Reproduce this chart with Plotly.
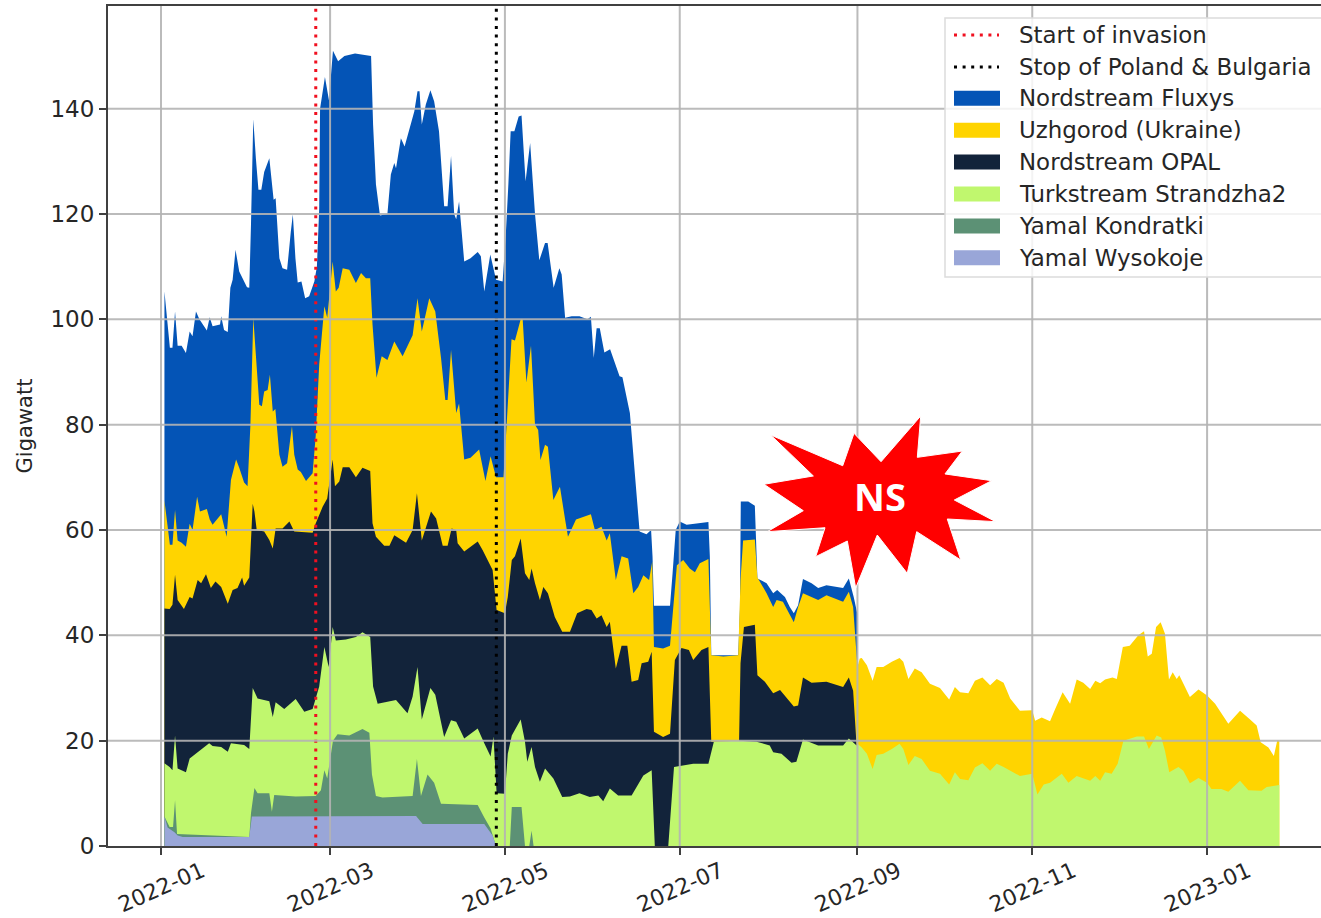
import datetime as dt
import plotly.graph_objects as go

# Every series below is the top edge of its band in the stack (Gigawatt),
# read off the picture at days counted from 2022-01-01.
BASE = dt.datetime(2022, 1, 1)

FLUXYS_DAY = [1.2,3.1,4,4.9,5.8,7.2,8.7,10,11,12.2,13.4,16,17,18,20.6,21,22,23.3,24.2,25,26,27.3,30,30.8,31.4,32.2,33.1,34,35,36,37.8,38.7,39.3,40,41.3,42.4,44,45.3,46,46.9,47.7,49,50.3,51.7,53.5,54.4,55.2,55.5,57.2,58.6,60,61.8,64,67.7,73.3,74,75,76.4,79,80.2,81.4,82,83.7,85,87.2,88.4,89.5,90.2,91,92.4,94,95.3,97,98.8,100,101.2,102.3,103,104,105.8,108,110.5,111.6,112.8,114.9,116.9,119.2,120.3,121.2,122,123.3,124.8,125.8,127.2,128.8,130.5,132,134,134.9,137,139,139.8,141,143.3,146,148.8,150,151,152,153.1,154.7,156.7,160,161,163.6,165.3,166.5,167,169.4,171,171.5,172,177.6,178.5,179.6,181,183.4,191,191.5,192,201.4,202,202.3,204.9,207.2,208.1,211.3,213.6,215,217.7,219.4,220.8,222.3,224,227,229.3,232.2,238,240,241.7,242.7,243]
FLUXYS_TOP = [105.3,94.6,94.6,101.5,95,95,93.6,97.7,96.8,101.5,100,97.9,100.4,98.7,99,100.6,98,97.6,106,107.5,113.2,109.1,106.1,106,118,138,130.6,124.6,124.6,128,130.6,125,122.7,123,111.6,109.7,109.4,116.7,119.9,111.6,107,107.2,104,104.4,107.2,110,121,140,146,141.6,151,149,150,150.5,150,137,125.6,119.7,120,127.5,129.7,128.7,134.4,132.8,137,139.5,143.3,143.3,137,140.8,143.5,141.4,135.7,121.5,121.5,131,120,119,122.4,111,111.6,112.8,112,105.3,112.3,107.5,107.2,116,125.6,135.7,135.7,138.5,138.7,126.2,133.5,120,111.2,114.5,114.5,106,109.7,108.5,100.3,100.6,100.6,100,100.5,92.7,98.3,98.3,93.7,94.3,89.2,89,82.2,70,63,59.7,59.2,60,55,45.6,45.6,51.8,60,61.6,61,61.5,55,36.2,36.2,45,65.4,65.4,64.6,50.8,49.9,48,48.6,47.3,45.4,44.2,45.7,50.7,49.9,49,49.5,49,50.8,47.3,44.5,44]

UZHGOROD_DAY = [1.2,3.1,4,4.9,5.8,7.2,8.7,10,11,12.6,13.6,16,17,18,21,22.9,24.4,26.2,27.3,29,30.2,31.2,32.2,33.1,34.3,35.2,36,37.2,38,39,39.9,41.3,42.4,44,45.7,46.5,47.7,48.8,50.6,52.9,54,55.2,57,58,59.9,61,62,63.4,65.7,68,69.8,71.5,73,73.8,75.2,77,79,81.4,84.3,87.8,89.5,91,93.6,95.7,97.7,99.2,100,101.2,103,104,105.8,108,111,113.2,115,116.9,119.5,120.6,122.3,123.5,125.5,126.2,127.5,129.1,130.5,131.6,132.4,134,135,136.9,139.2,141,142,144.8,150,151.4,153.7,155.5,156.6,158.7,160.7,163,164.8,166.5,168.3,170.3,171.4,172,175.2,177.6,179,180,182.2,184.5,186.3,188,191,192,196.2,201.4,202.2,203.1,207.2,208.1,211.3,213.6,214.8,217,220.8,222.3,224,227,229.3,232.2,238,240,241.5,243,243.8,244.5,246.3,248.3,249.7,252,255,257.7,259,260.8,263,265.4,268.3,271.8,275,277,278.8,281.7,284,286.6,289.3,291.6,294,296.3,299.7,304,305,307.3,310.2,312,314.6,317.2,319.5,321.8,324.2,326,327.7,329.4,332,333.5,335.6,338,341,343,344.3,345.7,347.2,348.8,350.3,351.7,353,354.4,355.3,359,362,365,367.8,372.4,376.5,380,382.3,383.7,386.4,388.3,389.5,390.2]
UZHGOROD_TOP = [65.6,57.2,57.2,63.8,58,57.6,56.8,61.2,60,66.3,63.5,64,62,61,63,58.7,69.5,73.4,71.8,69,68.3,80,100.3,92.7,83.8,83.5,86.3,86.6,89.5,82.5,83,74.3,72,72.7,79.7,74.3,71.5,71,69.3,70.8,78,91.4,102.5,100.3,111,105.3,106,109.7,109.4,106.9,108.8,107.8,107.8,99,88.9,93,92.3,95.8,93,97,104,97.7,104,101.5,92.7,84.7,84.7,94.2,82.2,84,73.4,73.7,75.3,69.3,74,70,70,80,96.2,96,100,100,88,95,80,79,73.3,76.2,75.8,65.7,68.2,62,58.7,62,63,60,60.6,58,59.4,50.5,55,54.6,48,49.2,51.4,50.5,54,37.8,37.5,38,47.3,53.3,54.3,52.7,52,53.7,54.5,36.2,36,36.2,50.5,58,58.2,51,48,45.4,46.7,46.4,42.5,45.4,48,47.3,46.7,47.6,46.4,48.3,45.4,34,35.6,35.7,34.3,31.4,34,34,35,35.7,35,31.7,33.7,33,30.8,30,27.8,30.2,29.2,29,31.4,32,30.5,31.7,31,28,25.7,25.8,23.8,24.4,23.7,26,29.2,27,31.6,31,29.8,31.4,30.9,31.6,32,31.7,37.8,38,40,40.8,36,36.5,41.6,42.5,40.3,31.6,33,31.7,32.4,28.3,29.7,28.6,27,23.2,25.7,24,22.9,19.7,18.7,17.1,20.1,20]

OPAL_DAY = [1.2,3,4,4.9,5.8,8,10,11,12.8,14,15.7,17.4,19,21,23.3,25,26.7,28.3,29,30.8,32,32.6,33.4,36,37.8,39,40,42.4,44.8,46.5,52.9,54,56.4,58,59.9,60.7,62.2,63.4,65.7,68,70.3,73,73.8,75,77.9,79.7,81.4,85.5,87.8,89.3,91,94.2,96,98.3,100,101.4,103,103.5,105.8,110.5,112.2,115.7,117.1,120,121,122.4,123.5,125.5,127,128.5,129.3,130.5,132.2,133.4,135,137.4,140,142.7,145.2,148.5,150.2,152,153.7,155.5,156.6,157.6,158.7,160.7,162.7,164.2,166.5,167.7,170,171.2,172,175.2,177.6,179.3,181.6,184.2,185.7,188.6,191,192,201.7,202.2,203.4,207.2,208.1,210.7,213.6,216,218.8,220.8,222.3,224,227,232.2,238,240,241.5,242.7,243]
OPAL_TOP = [45.1,45,45.8,51.5,46.7,45,47.3,47,50.5,49.9,51.6,49,50.2,49.2,46,48.6,49,51,49.4,51,65,63.5,60,59.7,58.1,56.5,60.3,60.3,61.6,59.7,59.5,61.3,64.4,66,73.4,68.3,69.2,71.9,71.9,70,71.8,71.2,61.3,58.7,57,57,59,57.6,60,67,58,63.5,62.2,57,57,60.3,60,57.5,55.9,57.8,56.2,52.4,44.8,44.2,47.3,54.3,55,58.4,51.8,50.5,52.7,49.9,46.7,49.2,48,43.5,40.7,40.7,44.2,45,44.8,43.2,43.8,41.6,42.6,37.8,33.7,38,38,31.2,31.5,34.7,35,36.9,21.7,20.7,21.3,35.3,37.6,37.2,35.3,37.2,37.8,19.8,19.8,34.7,41.6,42,32.4,31.2,29,29.6,27.7,26.5,26.7,32,31,31.2,30.2,32,29.5,19.1,19]

TURK_DAY = [1.2,3,4,4.9,5.8,8.7,10,11.6,14.5,16.8,18,21,23.3,24.4,29,30.8,32,33.7,37.8,39,40,43,47,50,52.9,55.2,57,58.5,59.9,61,64.5,68,70.3,73,74,75.6,82,86,87.8,89.5,91,94,95.7,98.8,101.2,103,105.8,110.5,112.8,115,116,117.1,120,121,122.4,125.5,127,127.8,129.3,130.5,132.2,134,136.9,140,142.7,146,149.6,152.6,154.3,156.6,159.5,164.2,168.3,171.2,172.3,177,179,183.3,185.7,191,192.9,201.4,207.8,212.4,213.6,216.5,220,221.7,224,229.3,234.5,238,240,242.7,243,244.5,246.3,248.3,249.7,252,255,257.7,259,260.8,263,265.4,268.3,271.8,275,277,278.8,281.7,284,286.6,289.3,291.6,294,296.3,299.7,304,305.8,308,310.2,314.3,316.6,319.5,324.2,326,327.7,329.4,331.7,333.8,335.8,340.5,343,344.7,347.4,349,350.3,351.8,355,356.7,359,362,365,366.5,370,372.4,376.5,379.4,384,385.8,390.2]
TURK_TOP = [15.7,15,14.4,21,14.7,14,16.6,17.3,18.4,19.5,19,18.8,17.9,19.5,19.2,18.4,30,28,27.5,24.5,27.3,26,27.9,25.5,26,30.3,37.8,34,41.6,39,39.2,39.7,40.6,39.7,30.3,27,27.7,25.2,28.4,34,24,30,28.7,20.7,23.9,23.6,20.4,22.3,19.5,17,20.8,10,9.9,17.5,21,24,19.8,16,18.8,15,12.2,14.7,12.8,9.3,9.4,10,9.3,9.6,8.5,10.9,9.6,9.6,13.4,14.4,0,0,15,15.3,15.6,15.6,19.8,20,19.8,19.1,17.8,17.5,15.8,16,20.2,19.1,19.1,19.1,20.4,19.1,19.4,18.7,17.5,14.6,17.3,17.5,18.4,19.4,18.4,15.4,17.1,16.5,14.3,13.7,11.7,14,12.7,12.5,14.9,15.7,14.3,15.6,15,14.3,13.3,13.7,9.8,11.7,12,13.7,12,13.3,12.4,13.3,12.4,14,13.7,15.6,20,20.8,20.8,18.4,21,20.6,18.1,14,15,14.3,11.9,12.9,12,10.8,10.8,10.3,12.4,10.6,10.5,11.2,11.6]

KONDRATKI_DAY = [1.2,3,4.2,4.9,5.6,30.8,31.4,32.6,33.7,37.8,38.7,39.5,47,54,55.8,57,58,60,61.6,65.7,70.3,72.7,73.6,75,77.3,87.8,89.3,90.7,93,95.3,97.7,110.5,112.8,115,116.9,121.7,122.4,125.8,127,128.5,129.3,130]
KONDRATKI_TOP = [5.6,3.6,3.6,8.7,2.3,1.7,6.2,11,10,10,6.5,9.7,9.4,9.5,10.6,14.4,12.8,20,21.2,21,22.2,21.5,13.6,9.5,9.2,9.5,16.5,9.5,13.6,12,8,7.8,5.4,3.3,0,0,7.4,7.4,0,0,2.9,0]

WYSOKOJE_DAY = [1.2,2.3,4.7,5.8,7.6,30.8,31.7,89,91.3,112.8,115.7,116.9]
WYSOKOJE_TOP = [5.6,3.5,2.6,2,1.7,1.7,5.6,5.7,4.2,4.2,2,0]

INVASION_DAY = 54
STOP_DAY = 117
Y_TICKS = [0,20,40,60,80,100,120,140]
X_TICKS = ["2022-01-01","2022-03-01","2022-05-01","2022-07-01","2022-09-01","2022-11-01","2023-01-01"]
X_LABELS = ["2022-01","2022-03","2022-05","2022-07","2022-09","2022-11","2023-01"]

W, H = 1321, 918
L, R, T, B = 108, 0, 6, 72
PX_PER_DAY = 2.866
Y_MAX = 159.5
FONT = "DejaVu Sans"
INK = "#262626"
GRID = "#b4b4b4"
DOT = "3px,5.6px"
RED = "#f01020"
BLACK = "#000000"

def dates(days):
    return [BASE + dt.timedelta(days=d) for d in days]

def px(x):
    return (x - L) / (W - L - R)

def py(y):
    return (H - B - y) / (H - T - B)

x0 = BASE + dt.timedelta(days=-(161 - L) / PX_PER_DAY)
x1 = BASE + dt.timedelta(days=(W - 161) / PX_PER_DAY)

fig = go.Figure()

# Bands, highest edge first; each later band paints over the one before.
bands = [
    ("Nordstream Fluxys", FLUXYS_DAY, FLUXYS_TOP, "#0454b6"),
    ("Uzhgorod (Ukraine)", UZHGOROD_DAY, UZHGOROD_TOP, "#ffd400"),
    ("Nordstream OPAL", OPAL_DAY, OPAL_TOP, "#12233a"),
    ("Turkstream Strandzha2", TURK_DAY, TURK_TOP, "#c0f76e"),
    ("Yamal Kondratki", KONDRATKI_DAY, KONDRATKI_TOP, "#5c9175"),
    ("Yamal Wysokoje", WYSOKOJE_DAY, WYSOKOJE_TOP, "#99a6d8"),
]

for name, day, top, colour in bands:
    fig.add_trace(go.Scatter(x=dates(day), y=top, mode="lines", name=name, showlegend=False,
                             line=dict(width=0, color=colour), fill="tozeroy", fillcolor=colour,
                             hoverinfo="skip"))

fig.add_trace(go.Scatter(x=dates([INVASION_DAY] * 2), y=[0, Y_MAX], mode="lines", name="Start of invasion",
                         showlegend=False, line=dict(color=RED, width=3, dash=DOT)))
fig.add_trace(go.Scatter(x=dates([STOP_DAY] * 2), y=[0, Y_MAX], mode="lines", name="Stop of Poland & Bulgaria",
                         showlegend=False, line=dict(color=BLACK, width=3, dash=DOT)))

shapes = []
for t in X_TICKS:
    shapes.append(dict(type="line", xref="x", yref="paper", x0=t, x1=t, y0=0, y1=1,
                       line=dict(color=GRID, width=2), opacity=0.9, layer="above"))
for v in Y_TICKS[1:]:
    shapes.append(dict(type="line", xref="paper", yref="y", x0=0, x1=1, y0=v, y1=v,
                       line=dict(color=GRID, width=2), opacity=0.9, layer="above"))

STAR = [(770.7,435),(842.7,465.7),(854,433.3),(881,461.7),(920.7,416),(917.3,457.3),(962.3,451),(945,474),
        (991.7,480.7),(954.3,500),(995.7,521.7),(947.3,519),(960.7,560),(916.7,531.7),(907.3,573.3),
        (877.3,535),(855.7,588),(847.3,541),(815.7,556.7),(825,527.7),(767.3,531.7),(803.3,510.7),
        (764,484.3),(813.3,476)]
path = "M " + " L ".join(f"{px(a):.4f},{py(b):.4f}" for a, b in STAR) + " Z"
shapes.append(dict(type="path", xref="paper", yref="paper", path=path, fillcolor="#ff0000",
                   line=dict(color="#ffffff", width=1), layer="above"))

annotations = [dict(text="<b>NS</b>", xref="paper", yref="paper", x=px(880), y=py(496), showarrow=False,
                    font=dict(family="Open Sans", size=38, color="#ffffff"))]

# Legend box drawn to the reference's exact geometry (it runs off the right edge).
shapes.append(dict(type="rect", xref="paper", yref="paper", x0=px(945), x1=1.01, y0=py(277), y1=py(18),
                   fillcolor="rgba(255,255,255,0.82)", line=dict(color="#dcdcdc", width=1.5), layer="above"))
ROW_Y = [35, 66.9, 98.3, 130.2, 162.1, 194, 225.9, 257.8]
entries = [("Start of invasion", RED, True), ("Stop of Poland & Bulgaria", BLACK, True)] + \
          [(b[0], b[3], False) for b in bands]
for (label, colour, dotted), row in zip(entries, ROW_Y):
    if dotted:
        shapes.append(dict(type="line", xref="paper", yref="paper", x0=px(954), x1=px(999), y0=py(row), y1=py(row),
                           line=dict(color=colour, width=3, dash=DOT), layer="above"))
    else:
        shapes.append(dict(type="rect", xref="paper", yref="paper", x0=px(954), x1=px(1000),
                           y0=py(row + 7.5), y1=py(row - 7.5), fillcolor=colour, line=dict(width=0), layer="above"))
    annotations.append(dict(text=label, xref="paper", yref="paper", x=px(1017), y=py(row), xanchor="left",
                            yanchor="middle", showarrow=False, font=dict(size=22.9, color=INK)))

fig.update_layout(
    width=W, height=H, margin=dict(l=L, r=R, t=T, b=B, pad=0),
    paper_bgcolor="white", plot_bgcolor="white", showlegend=False,
    font=dict(family=FONT, size=22, color=INK),
    shapes=shapes, annotations=annotations,
    xaxis=dict(type="date", range=[x0, x1], tickvals=X_TICKS, ticktext=X_LABELS, tickangle=-24, automargin=False,
               showgrid=False, zeroline=False, showline=True, mirror=True, linecolor="#404040", linewidth=2,
               ticks="outside", ticklen=7, tickwidth=2, tickcolor="#404040", ticklabelshift=41, ticklabelstandoff=-5,
               tickfont=dict(size=22)),
    yaxis=dict(range=[0, Y_MAX], tickvals=Y_TICKS, showgrid=False, zeroline=False, showline=True, automargin=False,
               linecolor="#404040", linewidth=2, ticks="outside", ticklen=7, tickwidth=2, tickcolor="#404040",
               tickfont=dict(size=23), title=dict(text="Gigawatt", font=dict(size=21), standoff=12)),
)

fig.write_html("out.html", config={"displayModeBar": False},
               post_script="document.body.style.margin='0';document.documentElement.style.overflow='hidden';")
